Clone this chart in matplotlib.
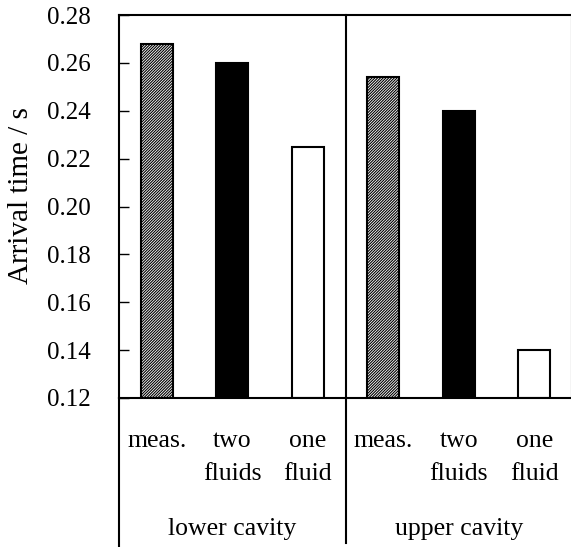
import matplotlib
matplotlib.use("Agg")
import matplotlib.pyplot as plt
from matplotlib.lines import Line2D

plt.rcParams['font.family'] = ['Liberation Serif', 'DejaVu Serif']
plt.rcParams['hatch.linewidth'] = 0.8

# data
groups = ["lower cavity", "upper cavity"]
categories = ["meas.", "two\nfluids", "one\nfluid"]
lower_values = [0.268, 0.260, 0.225]
upper_values = [0.254, 0.240, 0.140]
yticks = [0.12, 0.14, 0.16, 0.18, 0.20, 0.22, 0.24, 0.26, 0.28]

H = 547
fig = plt.figure(figsize=(5.71, 5.47), dpi=100)
ax = fig.add_axes([119 / 571, (H - 398) / H, 453 / 571, 383 / H])

values = lower_values + upper_values
styles = [dict(facecolor='white', hatch='/' * 12),
          dict(facecolor='black'),
          dict(facecolor='white')]
for i, v in enumerate(values):
    st = styles[i % 3]
    ax.bar(i, v - 0.12, bottom=0.12, width=0.42, edgecolor='black',
           linewidth=1.5, **st)

ax.set_xlim(-0.5, 5.5)
ax.set_ylim(0.12, 0.28)
ax.set_yticks(yticks)
ax.set_yticklabels([f"{t:.2f}" for t in yticks])
ax.set_xticks([])
ax.tick_params(axis='y', direction='in', length=7, width=1.0, labelsize=18, pad=20)
for s in ax.spines.values():
    s.set_linewidth(1.5)
ax.set_ylabel("Arrival time / s", fontsize=21, va='center')
ax.yaxis.set_label_coords((21 - 119) / 453, (398 - 196) / 383)

# divider between groups and extended lines below axis
def yfrac(py):
    return (398 - py) / 383

ax.add_line(Line2D([2.5, 2.5], [yfrac(543), 1], transform=ax.get_xaxis_transform(),
                   color='black', linewidth=1.5, clip_on=False))
ax.add_line(Line2D([-0.5, -0.5], [yfrac(546), 0], transform=ax.get_xaxis_transform(),
                   color='black', linewidth=1.5, clip_on=False))

trans = ax.get_xaxis_transform()
line_baselines = [447, 480]
for g in range(2):
    for j, c in enumerate(categories):
        x = g * 3 + j
        for k, part in enumerate(c.split("\n")):
            ax.text(x, yfrac(line_baselines[k]), part, transform=trans,
                    ha='center', va='baseline', fontsize=18.5)
    ax.text(g * 3 + 1, yfrac(535), groups[g], transform=trans,
            ha='center', va='baseline', fontsize=18.5)

fig.savefig("out.png", dpi=100)
